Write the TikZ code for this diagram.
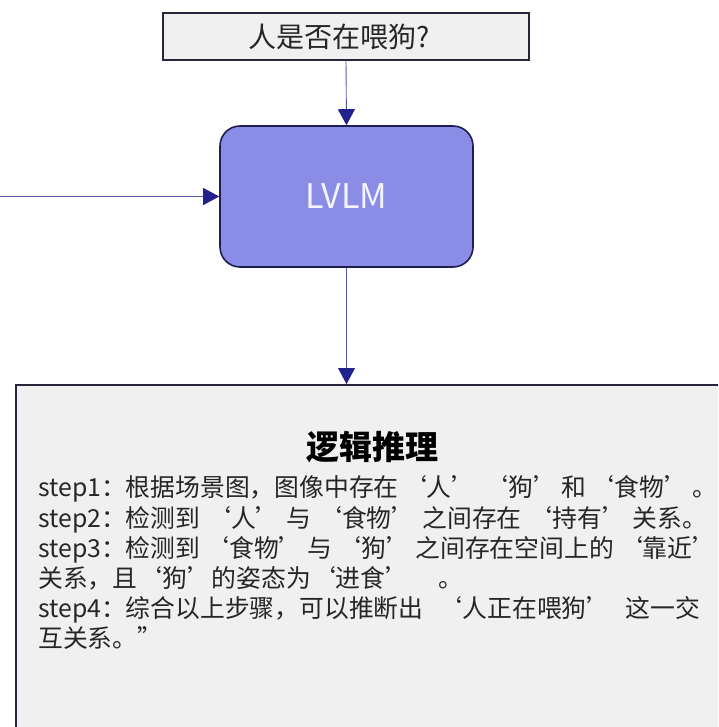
\documentclass[tikz,border=0pt]{standalone}
\usepackage{fontspec}
\setmainfont{Noto Sans CJK SC}
\usetikzlibrary{arrows.meta}
\definecolor{boxfill}{HTML}{F0F0F0}
\definecolor{boxline}{HTML}{26263A}
\definecolor{lvlmfill}{HTML}{8A8CE6}
\definecolor{lvlmline}{HTML}{1E1E50}
\definecolor{lvlmtext}{HTML}{F4F4FF}
\definecolor{arrline}{HTML}{5A5AAA}
\definecolor{tipc}{HTML}{22228F}
\definecolor{bodytext}{HTML}{262626}
\newcommand\gapS{\hspace{0pt plus 1fil}}
\tikzset{
  qbox/.style={draw=boxline, line width=1.6pt, fill=boxfill, minimum width=366pt, minimum height=47pt, inner sep=0pt,
    font=\fontsize{28}{30}\selectfont, text=black!85},
  lvlmbox/.style={draw=lvlmline, line width=1.6pt, fill=lvlmfill, rounded corners=20pt, minimum width=253pt, minimum height=141pt,
    inner sep=0pt, font=\fontsize{34}{38}\selectfont, text=lvlmtext},
  bigbox/.style={draw=boxline, line width=1.6pt, fill=boxfill, minimum width=730pt, minimum height=370pt, inner sep=0pt},
  arr/.style={draw=arrline, line width=0.9pt, -{Triangle[width=17pt,length=16pt,color=tipc,fill=tipc]}},
  titletxt/.style={font=\fontsize{33}{36}\selectfont\bfseries, text=black, inner sep=0pt},
  linetxt/.style={font=\fontsize{24.8}{28}\selectfont, text=bodytext, inner sep=0pt, anchor=base west},
}
\begin{document}
\begin{tikzpicture}[x=1pt,y=-1pt]
\useasboundingbox (0,0) rectangle (718,727);
\clip (0,0) rectangle (718,727);
\node[qbox] (q) at (346,36.5) {人是否在喂狗?\hspace*{14pt}};
\node[lvlmbox] (lvlm) at (346.5,196.5) {LVLM};
\node[bigbox, anchor=north west] (box) at (15,384) {};
\coordinate (src) at (0,196.5);
\draw[arr] (q.south) -- (lvlm.north);
\draw[arr] (src) -- (lvlm.west);
\draw[arr] (lvlm.south) -- (lvlm.south |- box.north);
\node[titletxt] (title) at (372,447) {逻辑推理};
\node[linetxt] (l1) at (38,496) {\makebox[679pt][s]{step1：根据场景图，图像中存在\gapS{}‘人’\gapS{}\gapS{}‘狗’\gapS{}和\gapS{}‘食物’\gapS{}。}};
\node[linetxt] (l2) at (38,527) {\makebox[669pt][s]{step2：检测到\gapS{}‘人’\gapS{}与\gapS{}‘食物’\gapS{}之间存在\gapS{}‘持有’\gapS{}关系。}};
\node[linetxt] (l3) at (38,557) {\makebox[679pt][s]{step3：检测到\gapS{}‘食物’\gapS{}与\gapS{}‘狗’\gapS{}之间存在空间上的\gapS{}‘靠近’}};
\node[linetxt] (l4) at (38,587) {关系，且‘狗’的姿态为‘进食’\hspace{28pt}。};
\node[linetxt] (l5) at (38,617) {\makebox[662pt][s]{step4：综合以上步骤，可以推断出\gapS{}‘人正在喂狗’\gapS{}这一交}};
\node[linetxt] (l6) at (38,647) {互关系。”};
\end{tikzpicture}
\end{document}
